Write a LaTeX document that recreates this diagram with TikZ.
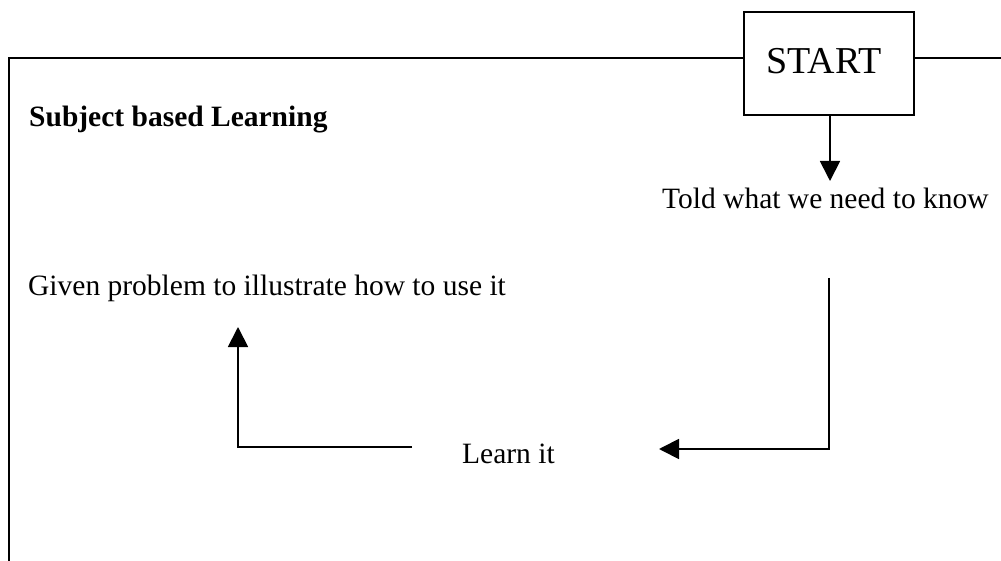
\documentclass[tikz,border=0pt]{standalone}
\usepackage{fontspec}
\setmainfont{Liberation Serif}
\usetikzlibrary{arrows.meta}
\tikzset{
  lbl/.style={inner sep=0pt, font=\fontsize{29.5}{34}\selectfont},
  ttl/.style={inner sep=0pt, font=\fontsize{29.5}{34}\selectfont\bfseries},
  framestyle/.style={line width=1.8pt},
  arr/.style={line width=1.8pt, -{Triangle[length=20pt,width=20pt]}},
  ln/.style={line width=1.8pt}
}
\begin{document}
\begin{tikzpicture}[x=1pt,y=-1pt]
\useasboundingbox[fill=white] (0,0) rectangle (1001,561);
% START box
\node[draw, line width=1.8pt, minimum width=170pt, minimum height=103pt, inner sep=0pt,
      font=\fontsize{38}{44}\selectfont] (start) at (829,63.5) {};
\node[inner sep=0pt, anchor=base, font=\fontsize{38}{44}\selectfont] (starttxt) at (824,74) {START};
% frame
\coordinate (fl) at (9,58);
\coordinate (fb) at (9,561);
\coordinate (fr) at (1001,58);
\draw[framestyle] (fb) -- (fl) -- (start.west |- fl);
\draw[framestyle] (start.east |- fr) -- (fr);
% texts
\node[ttl, anchor=base west] (subject) at (29,127) {Subject based Learning};
\node[lbl, anchor=base west] (told) at (662,209) {Told what we need to know};
\node[lbl, anchor=base west] (given) at (28,295) {Given problem to illustrate how to use it};
\node[lbl, anchor=base west] (learn) at (462,463) {Learn it};
% connectors
\coordinate (t1) at (830,181);
\draw[arr] (start.south -| t1) -- (t1);
\coordinate (a1) at (829,278);
\coordinate (a2) at (659,449);
\draw[arr] (a1) |- (a2);
\coordinate (b1) at (412,447);
\coordinate (b2) at (238,327);
\draw[arr] (b1) -| (b2);
\end{tikzpicture}
\end{document}
